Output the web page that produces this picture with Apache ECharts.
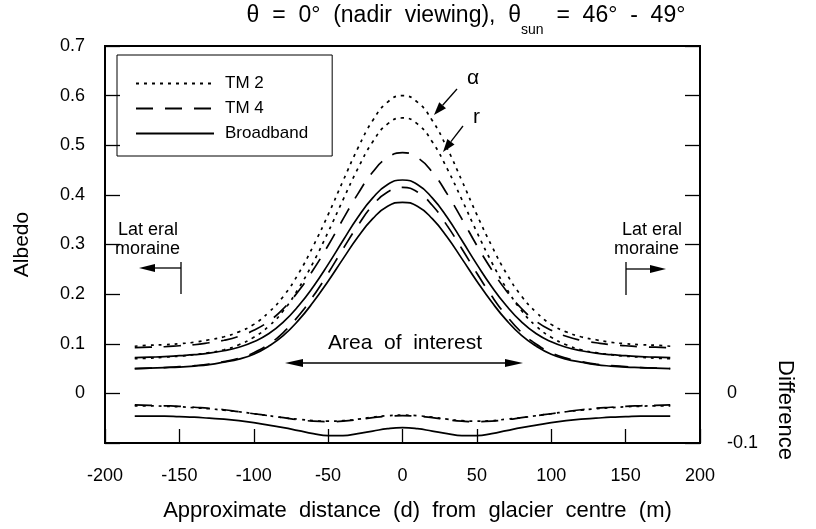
<!DOCTYPE html>
<html lang="en">
<head>
<meta charset="UTF-8">
<title>Albedo</title>
<script src="https://cdn.jsdelivr.net/npm/echarts@6/dist/echarts.min.js"></script>
<style>
  body{margin:0;background:#fff;}
  #c{width:816px;height:529px;}
</style>
</head>
<body>
<div id="c"></div>
<script>
// distance from glacier centre (m)
var xs = [-180,-170,-160,-150,-140,-130,-120,-110,-100,-90,-80,-70,-60,-50,-40,-30,-20,-10,0,
          10,20,30,40,50,60,70,80,90,100,110,120,130,140,150,160,170,180];

// albedo (alpha) and reflectance (r)
var tm2Alpha = [.095,.097,.098,.100,.103,.108,.114,.124,.139,.163,.196,.241,.297,.360,.428,.494,.550,.587,.600,
                .587,.550,.494,.428,.360,.297,.241,.196,.163,.139,.124,.114,.108,.103,.100,.098,.097,.095];
var tm2R     = [.070,.071,.073,.075,.078,.082,.088,.098,.113,.135,.167,.211,.264,.325,.390,.453,.507,.543,.555,
                .543,.507,.453,.390,.325,.264,.211,.167,.135,.113,.098,.088,.082,.078,.075,.073,.071,.070];
var tm4Alpha = [.092,.093,.094,.096,.098,.102,.107,.115,.127,.145,.171,.206,.249,.298,.351,.402,.446,.475,.485,
                .475,.446,.402,.351,.298,.249,.206,.171,.145,.127,.115,.107,.102,.098,.096,.094,.093,.092];
var tm4R     = [.050,.051,.052,.054,.056,.059,.064,.071,.082,.099,.123,.156,.196,.242,.291,.338,.379,.406,.415,
                .406,.379,.338,.291,.242,.196,.156,.123,.099,.082,.071,.064,.059,.056,.054,.052,.051,.050];
var bbAlpha  = [.072,.073,.074,.076,.078,.081,.086,.093,.104,.120,.144,.176,.215,.260,.308,.355,.394,.421,.430,
                .421,.394,.355,.308,.260,.215,.176,.144,.120,.104,.093,.086,.081,.078,.076,.074,.073,.072];
var bbR      = [.050,.051,.052,.053,.055,.058,.063,.069,.079,.095,.117,.147,.184,.226,.271,.315,.352,.377,.385,
                .377,.352,.315,.271,.226,.184,.147,.117,.095,.079,.069,.063,.058,.055,.053,.052,.051,.050];

// difference curves
var tm2Diff = [-.025,-.025,-.026,-.027,-.029,-.031,-.034,-.037,-.041,-.045,-.049,-.052,-.055,-.056,-.055,-.052,-.048,-.045,-.044,
               -.045,-.048,-.052,-.055,-.056,-.055,-.052,-.049,-.045,-.041,-.037,-.034,-.031,-.029,-.027,-.026,-.025,-.025];
var tm4Diff = [-.023,-.024,-.025,-.026,-.028,-.030,-.033,-.037,-.041,-.045,-.049,-.053,-.056,-.057,-.056,-.053,-.049,-.046,-.045,
               -.046,-.049,-.053,-.056,-.057,-.056,-.053,-.049,-.045,-.041,-.037,-.033,-.030,-.028,-.026,-.025,-.024,-.023];
var bbDiff  = [-.046,-.046,-.046,-.047,-.048,-.050,-.052,-.055,-.059,-.064,-.069,-.075,-.081,-.085,-.085,-.081,-.076,-.071,-.069,
               -.071,-.076,-.081,-.085,-.085,-.081,-.075,-.069,-.064,-.059,-.055,-.052,-.050,-.048,-.047,-.046,-.046,-.046];

var legendNames = ['TM 2', 'TM 4', 'Broadband'];

var FONT = '"Liberation Sans", Arial, Helvetica, sans-serif';

function pairs(ys){
    return xs.map(function(x, i){ return [x, ys[i]]; });
}

var dotted = [3, 5], dashed = [17, 12];
function curve(name, ys, type){
    return {
        name: name, type: 'line', data: pairs(ys), smooth: true,
        symbol: 'none', silent: true, animation: false,
        itemStyle: {color: '#000'},
        lineStyle: {color: '#000', width: 1.7, type: type}
    };
}

function arrow(x1, y1, x2, y2, len, w){
    // line from (x1,y1) with a filled head at (x2,y2)
    var dx = x2 - x1, dy = y2 - y1, d = Math.sqrt(dx*dx + dy*dy);
    var ux = dx/d, uy = dy/d;
    var bx = x2 - ux*len, by = y2 - uy*len;
    return [
        {type: 'line', shape: {x1: x1, y1: y1, x2: bx, y2: by}, style: {stroke: '#000', lineWidth: 1.3}},
        {type: 'polygon', shape: {points: [[x2, y2], [bx - uy*w, by + ux*w], [bx + uy*w, by - ux*w]]}, style: {fill: '#000'}}
    ];
}

function label(text, x, y, size, align){
    return {type: 'text', x: x, y: y, style: {text: text, font: size + 'px ' + FONT, fill: '#000',
        align: align || 'left', verticalAlign: 'middle'}};
}

var gfx = [
    {type: 'text', x: 466, y: 16, style: {
        text: '{a|θ  =  0°  (nadir  viewing),  θ}{s|sun}{a|  =  46°  -  49°}',
        align: 'center', verticalAlign: 'middle',
        rich: {
            a: {font: '23px ' + FONT, fill: '#000'},
            s: {font: '14px ' + FONT, fill: '#000', padding: [28, 0, 0, 0]}
        }
    }},
    {type: 'text', x: 785, y: 410, rotation: -Math.PI/2, style: {text: 'Difference',
        font: '22px ' + FONT, fill: '#000', align: 'center', verticalAlign: 'middle'}},
    label('α', 467, 78, 21),
    label('r', 473, 117, 21),
    label('Lat eral', 118, 230, 18),
    label('moraine', 115, 249, 18),
    label('Lat eral', 622, 230, 18),
    label('moraine', 614, 249, 18),
    label('Area  of  interest', 405, 343, 21, 'center'),
    {type: 'line', shape: {x1: 181, y1: 262, x2: 181, y2: 294}, style: {stroke: '#000', lineWidth: 1.3}},
    {type: 'line', shape: {x1: 626, y1: 262, x2: 626, y2: 295}, style: {stroke: '#000', lineWidth: 1.3}}
];
gfx = gfx.concat(arrow(457, 89, 434, 115, 13, 4.5))
         .concat(arrow(463, 126, 443, 152, 13, 4.5))
         .concat(arrow(181, 268, 139, 268, 16, 4))
         .concat(arrow(626, 269, 666, 269, 16, 4))
         .concat(arrow(405, 363, 285, 363, 18, 4))
         .concat(arrow(405, 363, 523, 363, 18, 4));

var chart = echarts.init(document.getElementById('c'), null, {renderer: 'canvas'});
chart.setOption({
    backgroundColor: '#fff',
    animation: false,
    textStyle: {fontFamily: FONT, color: '#000'},
    grid: {left: 105, right: 116, top: 46, bottom: 86, outerBoundsMode: 'none', containLabel: false,
           show: true, borderColor: '#000', borderWidth: 2},
    legend: {
        data: legendNames, orient: 'vertical', left: 117, top: 55,
        padding: [20, 24, 14, 18], itemGap: 8, itemWidth: 78, itemHeight: 16,
        borderColor: '#000', borderWidth: 1, selectedMode: false,
        itemStyle: {opacity: 0},
        textStyle: {fontSize: 17, color: '#000', fontFamily: FONT, padding: [0, 0, 0, 6]}
    },
    xAxis: {
        type: 'value', min: -200, max: 200, interval: 50,
        name: 'Approximate  distance  (d)  from  glacier  centre  (m)',
        nameLocation: 'middle', nameGap: 57,
        nameTextStyle: {fontSize: 22, color: '#000', padding: [0, 0, 0, 30]},
        axisLine: {show: true, onZero: false, lineStyle: {color: '#000', width: 2}},
        axisTick: {inside: true, length: 14, lineStyle: {color: '#000', width: 1.3}},
        axisLabel: {fontSize: 18, color: '#000', margin: 24},
        splitLine: {show: false}
    },
    yAxis: [{
        type: 'value', min: -0.1, max: 0.7, interval: 0.1,
        name: 'Albedo', nameLocation: 'middle', nameGap: 72,
        nameTextStyle: {fontSize: 21, color: '#000'},
        axisLine: {show: true, onZero: false, lineStyle: {color: '#000', width: 2}},
        axisTick: {inside: true, length: 15, lineStyle: {color: '#000', width: 1.3}},
        axisLabel: {fontSize: 18, color: '#000', margin: 20, formatter: function(v){
            if (v < -0.05) return '';
            if (Math.abs(v) < 1e-9) return '0';
            return v.toFixed(1);
        }},
        splitLine: {show: false}
    }, {
        type: 'value', min: -0.1, max: 0.7, interval: 0.1, position: 'right',
        axisLine: {show: true, onZero: false, lineStyle: {color: '#000', width: 2}},
        axisTick: {inside: true, length: 15, lineStyle: {color: '#000', width: 1.3}},
        axisLabel: {fontSize: 18, color: '#000', margin: 27, formatter: function(v){
            if (Math.abs(v) < 1e-9) return '0';
            if (Math.abs(v + 0.1) < 1e-9) return '-0.1';
            return '';
        }},
        splitLine: {show: false}
    }],
    series: [
        curve('TM 2', tm2Alpha, dotted),
        curve('TM 2', tm2R, dotted),
        curve('TM 2', tm2Diff, dotted),
        curve('TM 4', tm4Alpha, dashed),
        curve('TM 4', tm4R, dashed),
        curve('TM 4', tm4Diff, dashed),
        curve('Broadband', bbAlpha, 'solid'),
        curve('Broadband', bbR, 'solid'),
        curve('Broadband', bbDiff, 'solid')
    ],
    graphic: gfx
});
</script>
</body>
</html>
